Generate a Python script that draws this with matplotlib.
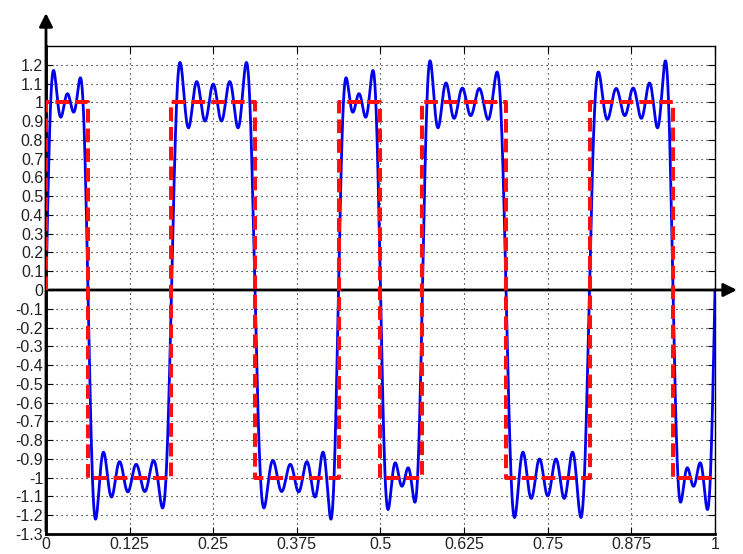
import numpy as np
import matplotlib
matplotlib.use("Agg")
import matplotlib.pyplot as plt

# square wave: switching instants and the level held after each one
edges = [0.0, 0.0625, 0.1875, 0.3125, 0.4375, 0.5, 0.5625, 0.6875, 0.8125, 0.9375, 1.0]
levels = [1, -1, 1, -1, 1, -1, 1, -1, 1, -1]
n_harm = 41          # highest harmonic kept in the partial sum

xticks = [0, 0.125, 0.25, 0.375, 0.5, 0.625, 0.75, 0.875, 1]
xticklabels = ["0", "0.125", "0.25", "0.375", "0.5", "0.625", "0.75", "0.875", "1"]
yticks = np.round(np.arange(-1.3, 1.21, 0.1), 1)


def fourier_partial(t, edges, levels, K):
    e = np.array(edges)
    lv = np.array(levels, dtype=float)
    a0 = np.sum(lv * np.diff(e))
    y = np.full_like(t, a0)
    for k in range(1, K + 1):
        w = 2 * np.pi * k
        a = 2 * np.sum(lv * (np.sin(w * e[1:]) - np.sin(w * e[:-1])) / w)
        b = 2 * np.sum(lv * (np.cos(w * e[:-1]) - np.cos(w * e[1:])) / w)
        y += a * np.cos(w * t) + b * np.sin(w * t)
    return y


t = np.linspace(0, 1, 2001)
approx = fourier_partial(t, edges, levels, n_harm)

# step outline of the ideal wave
sx, sy = [0.0], [0.0]
for i, lv in enumerate(levels):
    sx += [edges[i], edges[i + 1]]
    sy += [lv, lv]

plt.rcParams['font.family'] = ['Liberation Sans', 'DejaVu Sans']
fig = plt.figure(figsize=(7.43, 5.54), dpi=100)
ax = fig.add_axes([0.0619, 0.0361, 0.9004, 0.8809])

ax.plot(t, approx, color="#0000ee", lw=2.0, zorder=3)
ax.plot(sx, sy, color="#ff1010", lw=2.9, dashes=(3.4, 1.5), zorder=4)

ax.set_xlim(0, 1)
ax.set_ylim(-1.3, 1.3)
ax.set_xticks(xticks)
ax.set_xticklabels(xticklabels)
ax.set_yticks(yticks)
ax.set_yticklabels(["0" if v == 0 else ("%g" % v) for v in yticks])
ax.tick_params(direction="in", length=5, width=0.8, top=True, right=True,
               labelsize=11.5, pad=2, colors="black", labelcolor="#222222")
ax.grid(True, color="black", linestyle=(0, (1, 3.5)), lw=0.8)
for s in ax.spines.values():
    s.set_linewidth(1.0)
ax.spines["left"].set_linewidth(2)
ax.spines["bottom"].set_linewidth(2)

# axis arrows through the origin
ax.annotate("", xy=(0, 1.49), xytext=(0, -1.3), xycoords="data",
            arrowprops=dict(arrowstyle="-|>", color="black", lw=2,
                            mutation_scale=20), annotation_clip=False)
ax.annotate("", xy=(1.037, 0), xytext=(0, 0), xycoords="data",
            arrowprops=dict(arrowstyle="-|>", color="black", lw=2,
                            mutation_scale=20), annotation_clip=False)

fig.savefig("out.png", dpi=100)
